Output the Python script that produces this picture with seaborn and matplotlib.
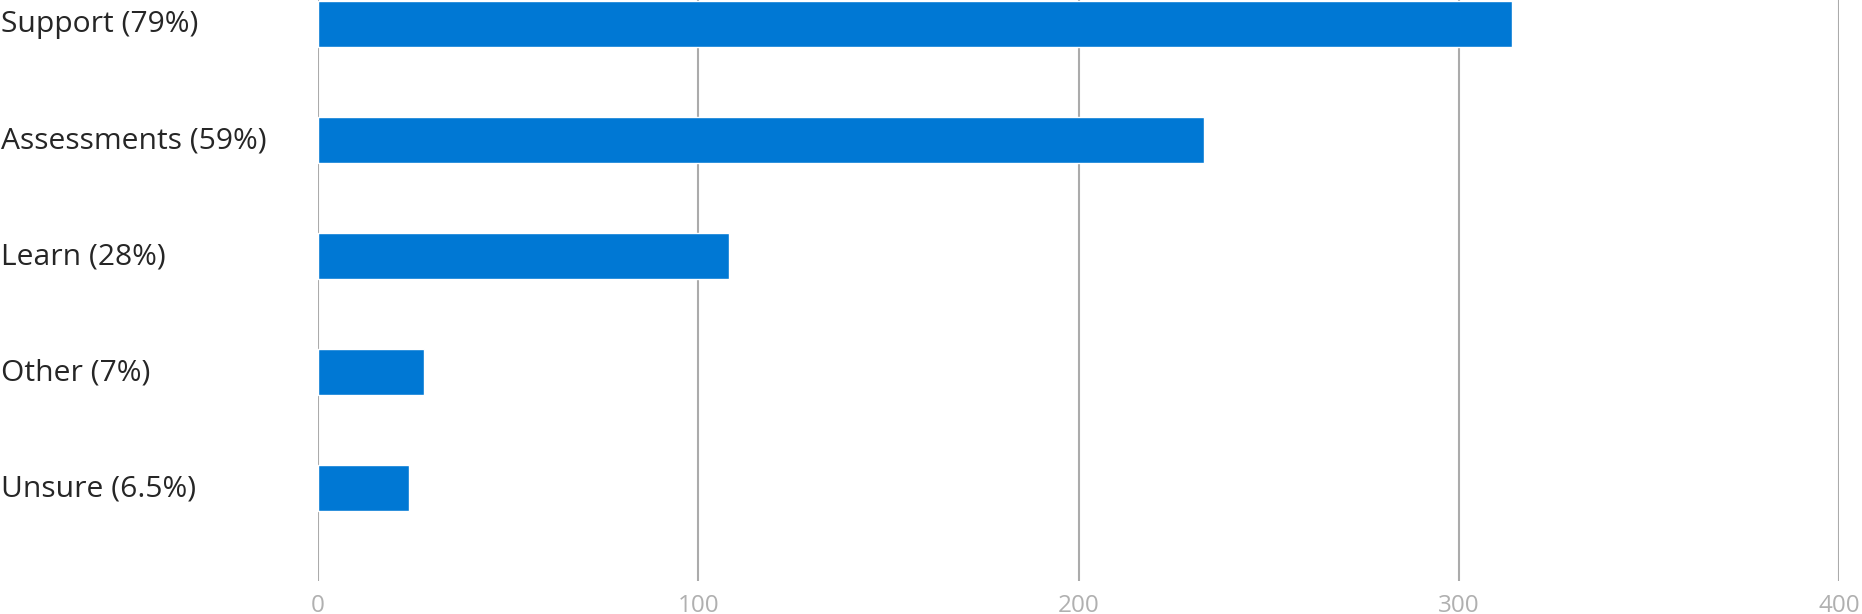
import pandas as pd
import matplotlib
matplotlib.use("Agg")
import matplotlib.pyplot as plt
import matplotlib.transforms as mtrans
import seaborn as sns

# survey answers, counts
categories = ["Support (79%)", "Assessments (59%)", "Learn (28%)", "Other (7%)", "Unsure (6.5%)"]
counts = [314, 233, 108, 28, 24]
x_ticks = [0, 100, 200, 300, 400]

df = pd.DataFrame({"category": categories, "count": counts})

sns.set_style("white")
plt.rcParams["font.family"] = ["Open Sans", "DejaVu Sans"]

fig = plt.figure(figsize=(18.62, 6.14), dpi=100)
ax = fig.add_axes([318 / 1862, 33 / 614, 1521 / 1862, 581 / 614])

sns.barplot(data=df, x="count", y="category", orient="h", color="#0078d4",
            width=0.4, saturation=1, ax=ax, zorder=3)

ax.set_xlim(0, 400)
ax.set_ylim(4.80, -0.207)
ax.set_xticks(x_ticks)
ax.set_xlabel("")
ax.set_ylabel("")
for s in ax.spines.values():
    s.set_visible(False)

ax.grid(axis="x", color="#ababab", linewidth=1.5, zorder=0)
ax.grid(axis="y", visible=False)

ax.tick_params(axis="x", length=0, pad=9, labelsize=17.5, labelcolor="#b0b0b0")
ax.tick_params(axis="y", length=0, pad=228, labelsize=21.6, labelcolor="#262626")
# nudge category labels up a few pixels, like the original
shift = mtrans.ScaledTranslation(0, 3 / 100, fig.dpi_scale_trans)
for lab in ax.get_yticklabels():
    lab.set_horizontalalignment("left")
    lab.set_transform(lab.get_transform() + shift)

fig.savefig("out.png", dpi=100, facecolor="white")
